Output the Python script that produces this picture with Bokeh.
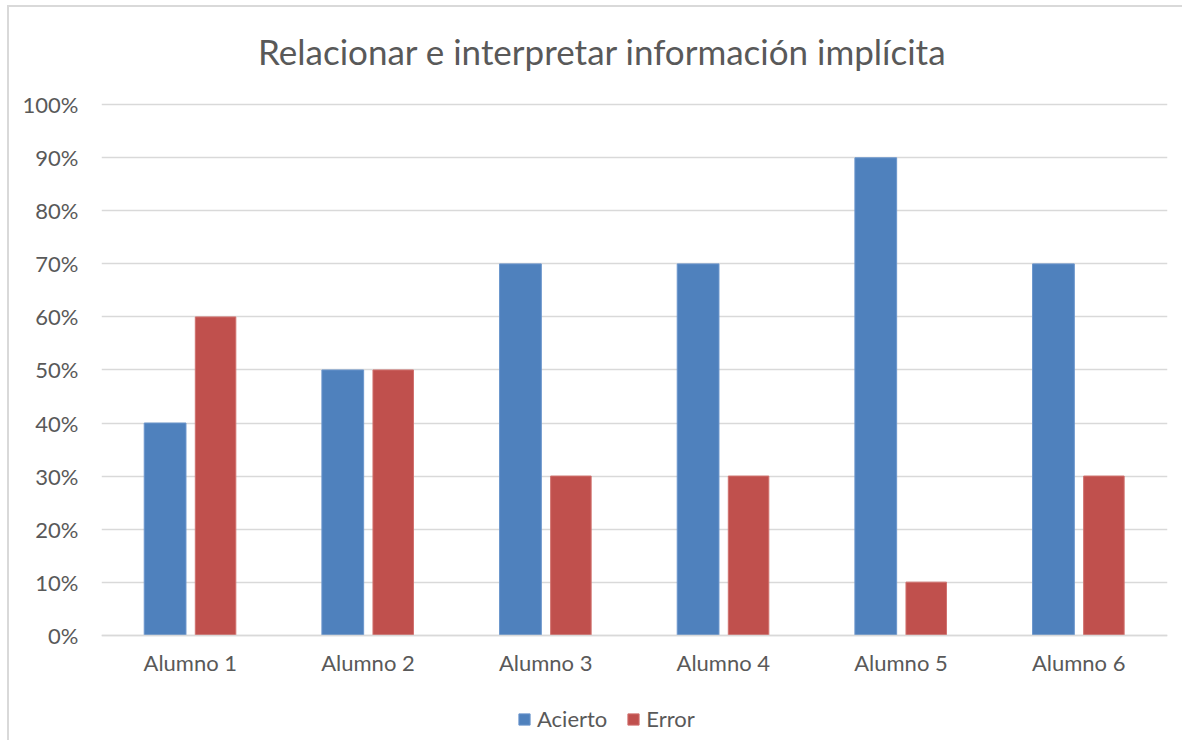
from bokeh.plotting import figure
from bokeh.models import FactorRange, Range1d, NumeralTickFormatter, Legend, LegendItem, Label, ColumnDataSource, FixedTicker
from bokeh.transform import dodge
from bokeh.embed import file_html
from bokeh.resources import INLINE

title_text = "Relacionar e interpretar información implícita"
categories = ["Alumno 1", "Alumno 2", "Alumno 3", "Alumno 4", "Alumno 5", "Alumno 6"]
acierto = [0.40, 0.50, 0.70, 0.70, 0.90, 0.70]
error = [0.60, 0.50, 0.30, 0.30, 0.10, 0.30]
series_names = ["Acierto", "Error"]
y_ticks = [0.0, 0.1, 0.2, 0.3, 0.4, 0.5, 0.6, 0.7, 0.8, 0.9, 1.0]

FONT = "Lato"
TXT = "#595959"
BLUE = "#4F81BD"
RED = "#C0504D"
GRID = "#d9d9d9"

src = ColumnDataSource(dict(cat=categories, acierto=acierto, error=error))

# the frame covers the whole canvas height so title and legend sit inside it;
# only the 0-100% ticks get grid lines and labels
p = figure(x_range=FactorRange(*categories, range_padding=0), y_range=Range1d(-0.2023, 1.1815),
           width=1175, height=735, output_backend="svg", toolbar_location=None,
           min_border_left=92, min_border_right=17, min_border_top=1, min_border_bottom=0)
p.styles = {"border-top": "2px solid #d9d9d9", "border-left": "2px solid #d9d9d9",
            "margin-left": "7px", "margin-top": "5px"}
p.outline_line_color = None
p.background_fill_color = "white"
p.border_fill_color = "white"

r1 = p.vbar(x=dodge("cat", -0.142, range=p.x_range), top="acierto", width=0.235, source=src,
            fill_color=BLUE, line_color="#6a95cc", line_width=1)
r2 = p.vbar(x=dodge("cat", 0.142, range=p.x_range), top="error", width=0.228, source=src,
            fill_color=RED, line_color="#d0706d", line_width=1)

p.xgrid.grid_line_color = None
p.ygrid.grid_line_color = GRID
p.ygrid.grid_line_width = 1.5
p.yaxis.ticker = FixedTicker(ticks=y_ticks)
p.yaxis.formatter = NumeralTickFormatter(format="0%")
p.yaxis.axis_line_color = None
p.yaxis.major_tick_line_color = None
p.yaxis.minor_tick_line_color = None
p.yaxis.major_label_standoff = 17
p.xaxis.fixed_location = 0
p.xaxis.axis_line_color = GRID
p.xaxis.axis_line_width = 1.5
p.xaxis.major_tick_line_color = None
p.xaxis.minor_tick_line_color = None
p.xaxis.major_label_standoff = 8
for ax in (p.xaxis, p.yaxis):
    ax.major_label_text_font = FONT
    ax.major_label_text_font_size = "22px"
    ax.major_label_text_color = TXT

title = Label(x=2.82, y=1.102, text=title_text, text_align="center", text_baseline="middle",
              text_font=FONT, text_font_size="35px", text_color=TXT)
p.add_layout(title)

legend = Legend(items=[LegendItem(label=series_names[0], renderers=[r1]),
                       LegendItem(label=series_names[1], renderers=[r2])],
                location=(416, 10), orientation="horizontal")
legend.padding = 0
legend.margin = 0
legend.border_line_color = None
legend.background_fill_alpha = 0
legend.glyph_width = 14
legend.glyph_height = 14
legend.label_standoff = 6
legend.spacing = 19
legend.label_text_font = FONT
legend.label_text_font_size = "22px"
legend.label_text_color = TXT
p.add_layout(legend, "center")

open("out.html", "w").write(file_html(p, INLINE))
